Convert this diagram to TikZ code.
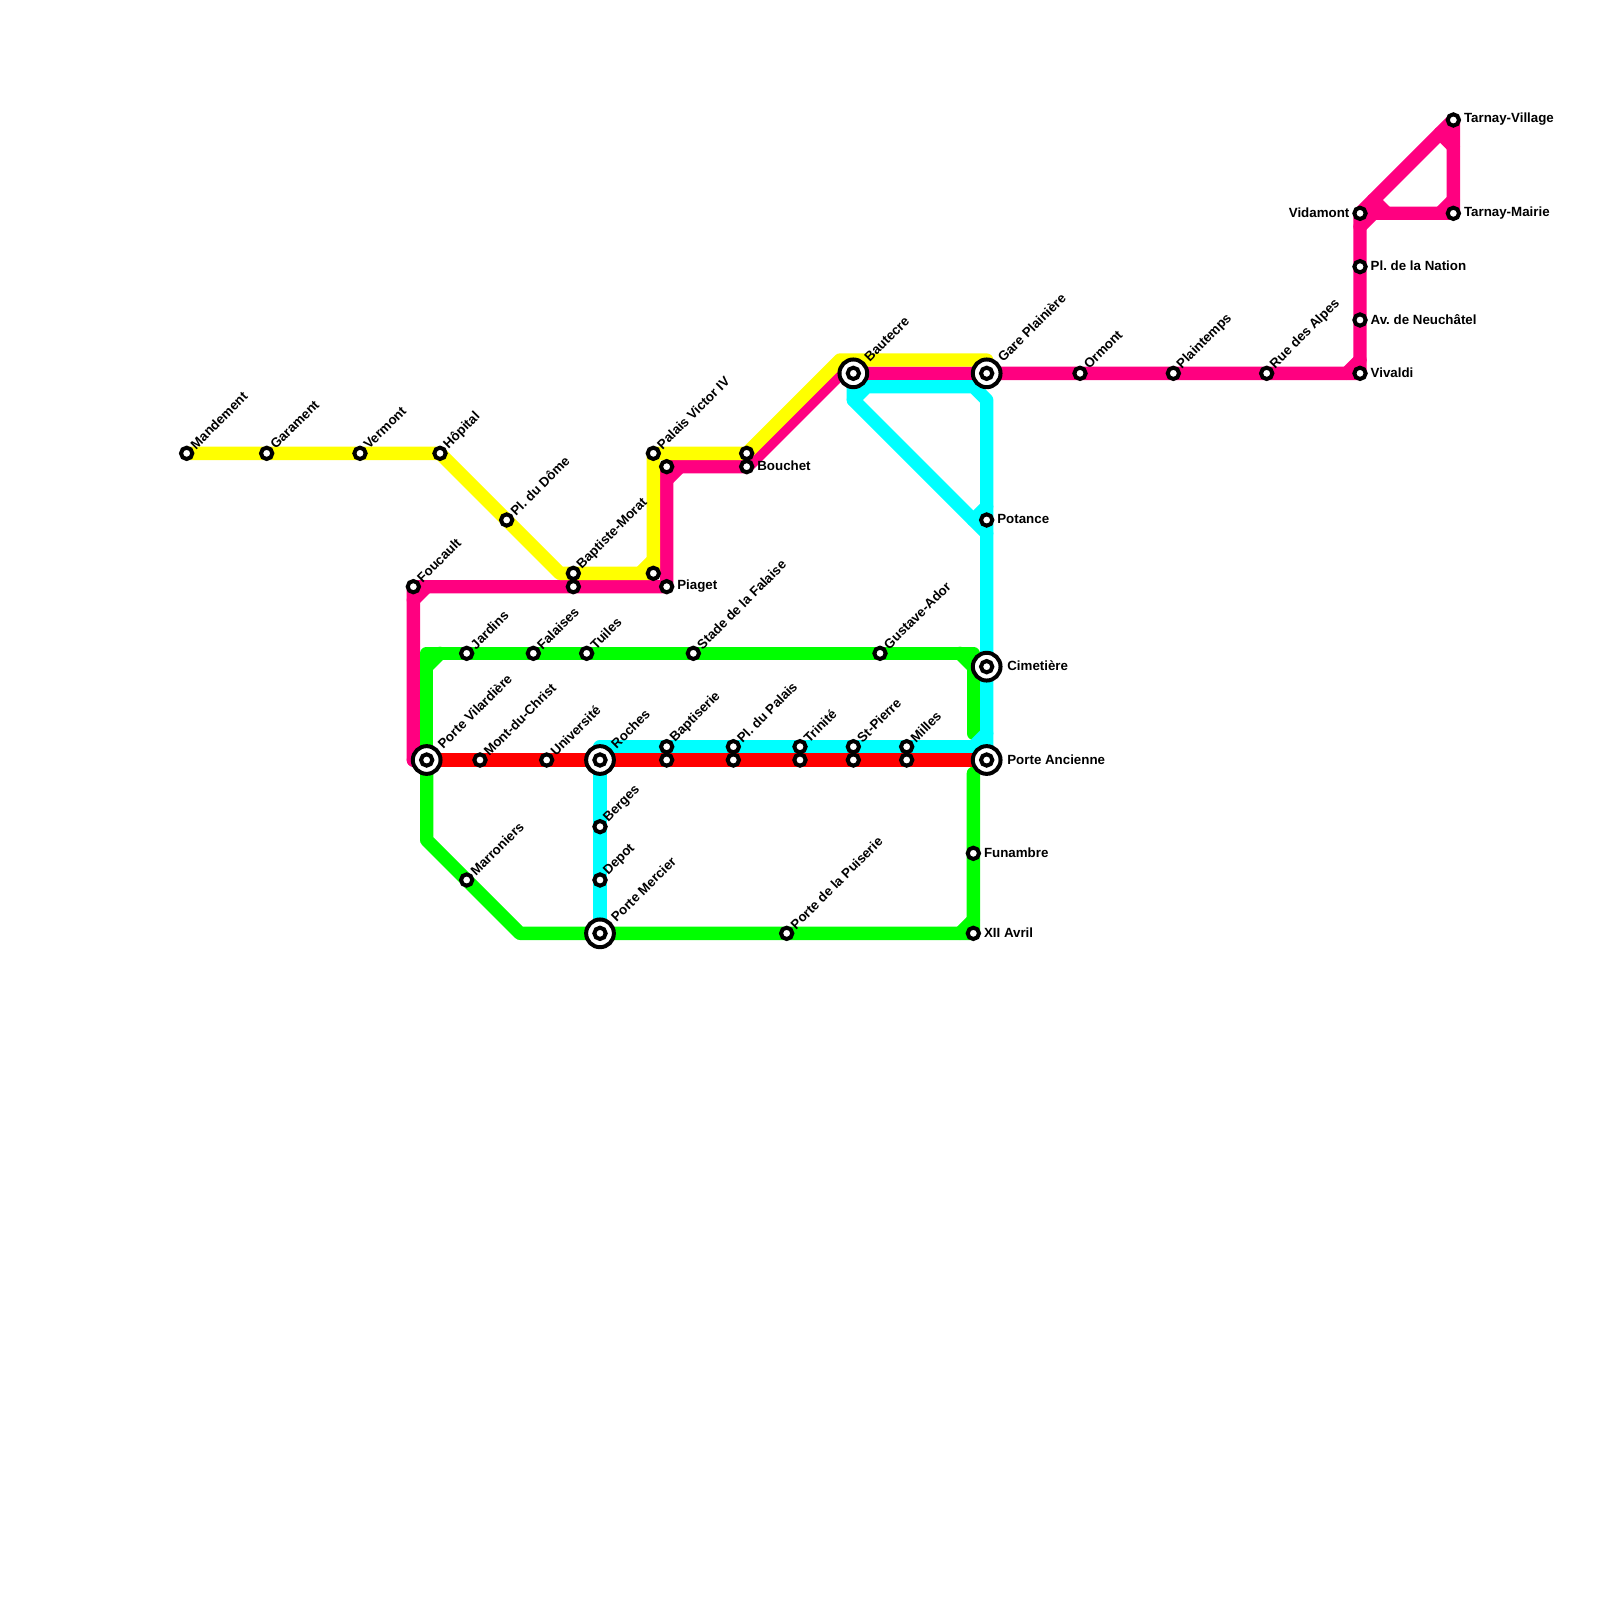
\documentclass[tikz,border=0pt]{standalone}
\usepackage{fontspec}
\setmainfont{Liberation Sans}
\frenchspacing
\pgfdeclarelayer{lines}
\pgfsetlayers{lines,main}
\definecolor{lyellow}{HTML}{FFFF00}
\definecolor{lpink}{HTML}{FF0080}
\definecolor{lgreen}{HTML}{00FF00}
\definecolor{lcyan}{HTML}{00FFFF}
\definecolor{lred}{HTML}{FF0000}
\tikzset{
  metro/.style={line width=0.25cm,line join=round,line cap=round},
  stn/.style={circle,draw=black,fill=white,line width=2.13pt,minimum size=0.2125cm,inner sep=0pt,outer sep=0pt},
  hubring/.style={circle,draw=black,fill=white,line width=2.13pt,minimum size=0.52cm,inner sep=0pt,outer sep=0pt},
  lab/.style={font=\fontsize{7.11}{8}\selectfont\bfseries,inner sep=0pt,outer sep=0pt,text=black},
  labd/.style={lab,rotate=45,anchor=west},
  labr/.style={lab,anchor=west},
  labl/.style={lab,anchor=east}
}
\newcommand{\stp}[2]{\node[stn] (#1) at (#2) {};}
\newcommand{\hub}[2]{\node[hubring] (#1) at (#2) {}; \node[stn] (#1-core) at (#1.center) {};}
\newcommand{\lU}[2]{\node[labd] (#1-t) at ([shift={(.45,-.5)}]#1.center) {#2};}
\newcommand{\lUb}[2]{\node[labd] (#1-t) at ([shift={(1.0,-1.05)}]#1.center) {#2};}
\newcommand{\lR}[2]{\node[labr] (#1-t) at ([shift={(.8,-.05)}]#1.center) {#2};}
\newcommand{\lRb}[2]{\node[labr] (#1-t) at ([shift={(1.55,-.05)}]#1.center) {#2};}
\newcommand{\lL}[2]{\node[labl] (#1-t) at ([shift={(-.8,-.05)}]#1.center) {#2};}
% chamfer piece at a corner
\newcommand{\bev}[4]{\draw[metro,#1] ([shift={(#3)}]#2.center) -- ([shift={(#4)}]#2.center);}
\begin{document}
\begin{tikzpicture}[x=0.25cm,y=-0.25cm]
\useasboundingbox (0,0) rectangle (120,120);
\begin{pgfonlayer}{lines}
\fill[white] (0,0) rectangle (120,120);
\end{pgfonlayer}
% stations: yellow line
\stp{mandement}{14,34}\lU{mandement}{Mandement}
\stp{garament}{20,34}\lU{garament}{Garament}
\stp{vermont}{27,34}\lU{vermont}{Vermont}
\stp{hopital}{33,34}\lU{hopital}{Hôpital}
\stp{dome}{38,39}\lU{dome}{Pl. du Dôme}
\stp{morat}{43,43}\lU{morat}{Baptiste-Morat}
\stp{moratb}{43,44}
\stp{palais}{49,34}\lU{palais}{Palais Victor IV}
\stp{palaisb}{50,35}
\stp{piagetb}{49,43}
\stp{piaget}{50,44}\lR{piaget}{Piaget}
\stp{bouchetb}{56,34}
\stp{bouchet}{56,35}\lR{bouchet}{Bouchet}
\stp{foucault}{31,44}\lU{foucault}{Foucault}
% green top
\stp{jardins}{35,49}\lU{jardins}{Jardins}
\stp{falaises}{40,49}\lU{falaises}{Falaises}
\stp{tuiles}{44,49}\lU{tuiles}{Tuiles}
\stp{stade}{52,49}\lU{stade}{Stade de la Falaise}
\stp{gustave}{66,49}\lU{gustave}{Gustave-Ador}
% pink main
\hub{bautecre}{64,28}\lUb{bautecre}{Bautecre}
\hub{gare}{74,28}\lUb{gare}{Gare Plainière}
\stp{ormont}{81,28}\lU{ormont}{Ormont}
\stp{plaintemps}{88,28}\lU{plaintemps}{Plaintemps}
\stp{alpes}{95,28}\lU{alpes}{Rue des Alpes}
\stp{vivaldi}{102,28}\lR{vivaldi}{Vivaldi}
\stp{neuchatel}{102,24}\lR{neuchatel}{Av. de Neuchâtel}
\stp{nation}{102,20}\lR{nation}{Pl. de la Nation}
\stp{vidamont}{102,16}\lL{vidamont}{Vidamont}
\stp{tmairie}{109,16}\lR{tmairie}{Tarnay-Mairie}
\stp{tvillage}{109,9}\lR{tvillage}{Tarnay-Village}
% cyan east
\stp{potance}{74,39}\lR{potance}{Potance}
\hub{cimetiere}{74,50}\lRb{cimetiere}{Cimetière}
\hub{ancienne}{74,57}\lRb{ancienne}{Porte Ancienne}
% red line
\hub{vilardiere}{32,57}\lUb{vilardiere}{Porte Vilardière}
\stp{christ}{36,57}\lU{christ}{Mont-du-Christ}
\stp{universite}{41,57}\lU{universite}{Université}
\hub{roches}{45,57}\lUb{roches}{Roches}
\stp{baptiserie}{50,56}\lU{baptiserie}{Baptiserie}
\stp{baptiserieb}{50,57}
\stp{ppalais}{55,56}\lU{ppalais}{Pl. du Palais}
\stp{ppalaisb}{55,57}
\stp{trinite}{60,56}\lU{trinite}{Trinité}
\stp{triniteb}{60,57}
\stp{stpierre}{64,56}\lU{stpierre}{St-Pierre}
\stp{stpierreb}{64,57}
\stp{milles}{68,56}\lU{milles}{Milles}
\stp{millesb}{68,57}
% south
\stp{berges}{45,62}\lU{berges}{Berges}
\stp{depot}{45,66}\lU{depot}{Depot}
\hub{mercier}{45,70}\lUb{mercier}{Porte Mercier}
\stp{marroniers}{35,66}\lU{marroniers}{Marroniers}
\stp{puiserie}{59,70}\lU{puiserie}{Porte de la Puiserie}
\stp{funambre}{73,64}\lR{funambre}{Funambre}
\stp{avril}{73,70}\lR{avril}{XII Avril}
% bends
\coordinate (y1) at (42,43);
\coordinate (y2) at (49,43);
\coordinate (y3) at (63,27);
\coordinate (y4) at (74,27);
\coordinate (p1) at (63,28);
\coordinate (p3) at (31,57);
\coordinate (g1) at (32,49);
\coordinate (g2) at (73,49);
\coordinate (g3) at (73,55);
\coordinate (g4) at (32,63);
\coordinate (g5) at (39,70);
\coordinate (g6) at (73,70);
\coordinate (g7) at (73,58);
\coordinate (c0) at (64,30);
\coordinate (c1) at (65,29);
\coordinate (c2) at (73,29);
\coordinate (c3) at (74,30);
\coordinate (c4) at (74,40);
\coordinate (c5) at (74,56);
\coordinate (c6) at (45,56);
\begin{pgfonlayer}{lines}
% pink
\draw[metro,lpink] (p3) -- (foucault.center) -- (moratb.center) -- (piaget.center) -- (palaisb.center) -- (bouchet.center) -- (p1) -- (bautecre.center) -- (gare.center) -- (ormont.center) -- (plaintemps.center) -- (alpes.center) -- (vivaldi.center) -- (neuchatel.center) -- (nation.center) -- (vidamont.center) -- (tvillage.center) -- (tmairie.center) -- (vidamont.center);
\draw[metro,lpink] (p3) -- (vilardiere.center);
\bev{lpink}{foucault}{0,1}{1,0}
\bev{lpink}{palaisb}{0,1}{1,0}
\bev{lpink}{vivaldi}{-1,0}{0,-1}
\bev{lpink}{vidamont}{0,1}{1,0}
\bev{lpink}{vidamont}{1,-1}{2,0}
\bev{lpink}{tmairie}{-1,0}{0,-1}
\bev{lpink}{tvillage}{-1,1}{0,2}
% yellow
\draw[metro,lyellow] (mandement.center) -- (garament.center) -- (vermont.center) -- (hopital.center) -- (dome.center) -- (y1) -- (morat.center) -- (y2) -- (palais.center) -- (bouchetb.center) -- (y3) -- (y4);
\bev{lyellow}{y2}{-1,0}{0,-1}
% green
\draw[metro,lgreen] (vilardiere.center) -- (g1) -- (jardins.center) -- (falaises.center) -- (tuiles.center) -- (stade.center) -- (gustave.center) -- (g2) -- (g3);
\bev{lgreen}{g1}{0,1}{1,0}
\bev{lgreen}{g2}{-1,0}{0,1}
\draw[metro,lgreen] (vilardiere.center) -- (g4) -- (marroniers.center) -- (g5) -- (mercier.center) -- (puiserie.center) -- (g6) -- (avril.center) -- (funambre.center) -- (g7);
\bev{lgreen}{g6}{-1,0}{0,-1}
% cyan
\draw[metro,lcyan] (bautecre.center) -- (c0) -- (c1) -- (c2) -- (c3) -- (potance.center) -- (cimetiere.center) -- (ancienne.center);
\draw[metro,lcyan] (c0) -- (c4);
\bev{lcyan}{potance}{-1,0}{0,-1}
\draw[metro,lcyan] (c5) -- (milles.center) -- (stpierre.center) -- (trinite.center) -- (ppalais.center) -- (baptiserie.center) -- (c6) -- (roches.center) -- (berges.center) -- (depot.center) -- (mercier.center);
\bev{lcyan}{c5}{-1,0}{0,-1}
% red
\draw[metro,lred] (vilardiere.center) -- (christ.center) -- (universite.center) -- (roches.center) -- (baptiserieb.center) -- (ppalaisb.center) -- (triniteb.center) -- (stpierreb.center) -- (millesb.center) -- (ancienne.center);
\end{pgfonlayer}
\end{tikzpicture}
\end{document}
